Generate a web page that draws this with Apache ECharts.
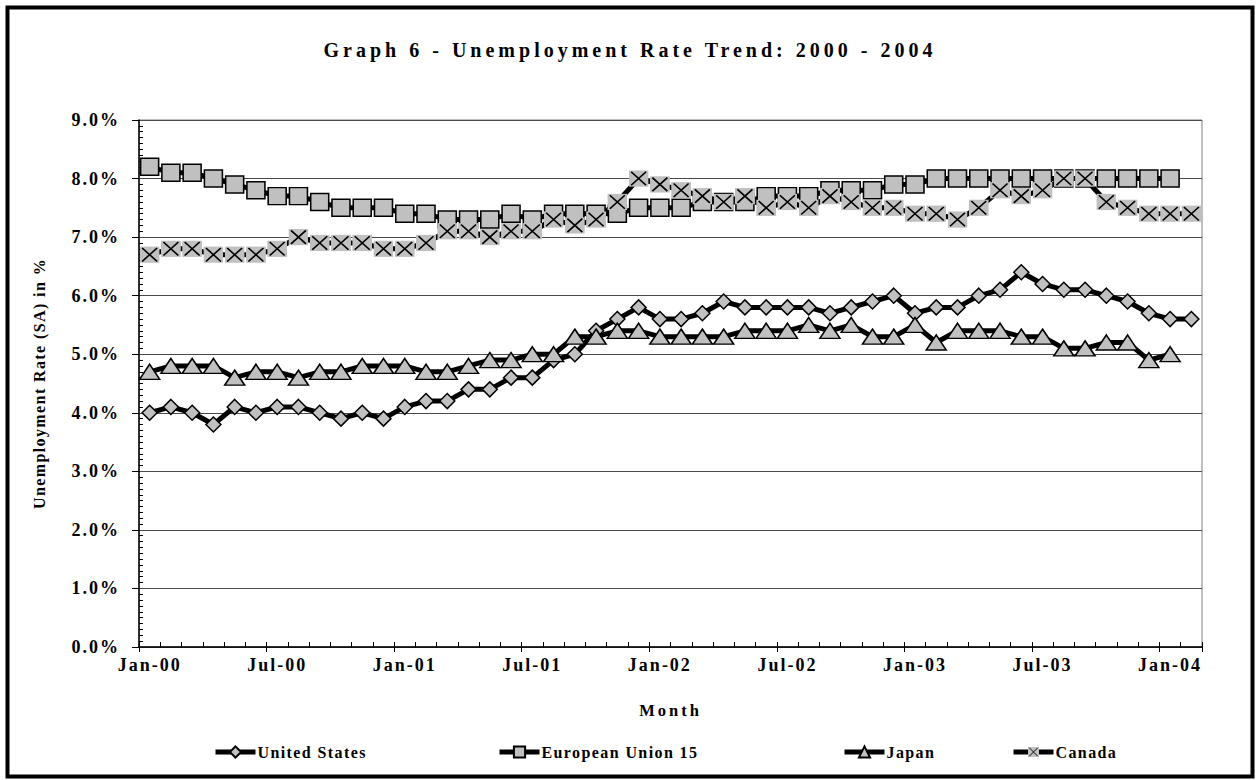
<!DOCTYPE html>
<html>
<head>
<meta charset="utf-8">
<script src="https://cdn.jsdelivr.net/npm/echarts@6/dist/echarts.min.js"></script>
<style>
  html, body { margin: 0; padding: 0; background: #fff; }
  #chart { width: 1259px; height: 780px; }
  /* Excel-style wide letter spacing on the bold serif labels */
  #chart text { letter-spacing: 2px; }
  #chart text[style*="20px"] { letter-spacing: 4px; }
  #chart text[style*="18px"] { letter-spacing: 2px; }
  #chart text[style*="16px"] { letter-spacing: 1.4px; }
  #chart text[style*="16.5px"] { letter-spacing: 3px; }
</style>
</head>
<body>
<div id="chart"></div>
<script>
// Month categories, Jan-00 .. Feb-04
const monthAbbr = ['Jan', 'Feb', 'Mar', 'Apr', 'May', 'Jun', 'Jul', 'Aug', 'Sep', 'Oct', 'Nov', 'Dec'];
const yearSuffix = ['00', '01', '02', '03', '04'];
const months = [];
yearSuffix.forEach(y => monthAbbr.forEach(m => months.push(m + '-' + y)));
months.length = 50;

// Seasonally adjusted unemployment rate, %
const unitedStates = [
  4.0, 4.1, 4.0, 3.8, 4.1, 4.0, 4.1, 4.1, 4.0, 3.9, 4.0, 3.9,
  4.1, 4.2, 4.2, 4.4, 4.4, 4.6, 4.6, 4.9, 5.0, 5.4, 5.6, 5.8,
  5.6, 5.6, 5.7, 5.9, 5.8, 5.8, 5.8, 5.8, 5.7, 5.8, 5.9, 6.0,
  5.7, 5.8, 5.8, 6.0, 6.1, 6.4, 6.2, 6.1, 6.1, 6.0, 5.9, 5.7,
  5.6, 5.6
];
const europeanUnion15 = [
  8.2, 8.1, 8.1, 8.0, 7.9, 7.8, 7.7, 7.7, 7.6, 7.5, 7.5, 7.5,
  7.4, 7.4, 7.3, 7.3, 7.3, 7.4, 7.3, 7.4, 7.4, 7.4, 7.4, 7.5,
  7.5, 7.5, 7.6, 7.6, 7.6, 7.7, 7.7, 7.7, 7.8, 7.8, 7.8, 7.9,
  7.9, 8.0, 8.0, 8.0, 8.0, 8.0, 8.0, 8.0, 8.0, 8.0, 8.0, 8.0,
  8.0, null
];
const japan = [
  4.7, 4.8, 4.8, 4.8, 4.6, 4.7, 4.7, 4.6, 4.7, 4.7, 4.8, 4.8,
  4.8, 4.7, 4.7, 4.8, 4.9, 4.9, 5.0, 5.0, 5.3, 5.3, 5.4, 5.4,
  5.3, 5.3, 5.3, 5.3, 5.4, 5.4, 5.4, 5.5, 5.4, 5.5, 5.3, 5.3,
  5.5, 5.2, 5.4, 5.4, 5.4, 5.3, 5.3, 5.1, 5.1, 5.2, 5.2, 4.9,
  5.0, null
];
const canada = [
  6.7, 6.8, 6.8, 6.7, 6.7, 6.7, 6.8, 7.0, 6.9, 6.9, 6.9, 6.8,
  6.8, 6.9, 7.1, 7.1, 7.0, 7.1, 7.1, 7.3, 7.2, 7.3, 7.6, 8.0,
  7.9, 7.8, 7.7, 7.6, 7.7, 7.5, 7.6, 7.5, 7.7, 7.6, 7.5, 7.5,
  7.4, 7.4, 7.3, 7.5, 7.8, 7.7, 7.8, 8.0, 8.0, 7.6, 7.5, 7.4,
  7.4, 7.4
];

const seriesNames = ['United States', 'European Union 15', 'Japan', 'Canada'];
const titleText = 'Graph 6 - Unemployment Rate Trend: 2000 - 2004';

const serif = "'Liberation Serif', 'Times New Roman', serif";
const markerFill = '#c0c0c0';

// Grey box with a black cross, used as the Canada marker
const crossSvg =
  '<svg xmlns="http://www.w3.org/2000/svg" width="20" height="18" viewBox="0 0 20 18">' +
  '<rect x="0" y="0" width="20" height="18" fill="' + markerFill + '"/>' +
  '<path d="M2.5 1.5 L17.5 16.5 M17.5 1.5 L2.5 16.5" stroke="#000" stroke-width="1.7" fill="none"/>' +
  '</svg>';
const crossSymbol = 'image://data:image/svg+xml;charset=utf-8,' + encodeURIComponent(crossSvg);

const markerStyle = { color: markerFill, borderColor: '#000', borderWidth: 1.5 };
const lineStyle = { color: '#000', width: 5 };

function lineSeries(name, data, symbol, size) {
  return {
    name: name,
    type: 'line',
    data: data,
    symbol: symbol,
    symbolSize: size,
    showAllSymbol: true,
    connectNulls: false,
    lineStyle: lineStyle,
    itemStyle: markerStyle,
    emphasis: { disabled: true },
    animation: false
  };
}

const legendLefts = [213, 497, 842, 1011];

const chart = echarts.init(document.getElementById('chart'), null, { renderer: 'svg' });
chart.setOption({
  backgroundColor: '#fff',
  animation: false,
  graphic: [
    {
      type: 'rect',
      shape: { x: 7.5, y: 7.5, width: 1245, height: 769 },
      style: { fill: 'none', stroke: '#000', lineWidth: 4 },
      silent: true
    },
    {
      type: 'text',
      x: 630, y: 50,
      style: {
        text: titleText,
        fontFamily: serif, fontWeight: 'bold', fontSize: 20,
        fill: '#000', align: 'center', verticalAlign: 'middle'
      },
      silent: true
    }
  ],
  grid: {
    left: 139, right: 57, top: 120, bottom: 133,
    show: true, borderColor: '#808080', borderWidth: 1, backgroundColor: 'transparent'
  },
  legend: seriesNames.map((n, i) => ({
    data: [n],
    left: legendLefts[i],
    top: 744,
    padding: 0,
    itemWidth: 40,
    itemHeight: 14,
    itemGap: 0,
    selectedMode: false,
    lineStyle: { width: 5, color: '#000' },
    textStyle: { fontFamily: serif, fontWeight: 'bold', fontSize: 16, color: '#000', padding: [0, 0, 0, -3] }
  })),
  xAxis: [
    {
      type: 'category',
      data: months,
      boundaryGap: true,
      name: 'Month',
      nameLocation: 'middle',
      nameGap: 55,
      nameTextStyle: { fontFamily: serif, fontWeight: 'bold', fontSize: 16.5, color: '#000' },
      axisLine: { show: true, lineStyle: { color: '#000', width: 1.5 } },
      axisTick: { show: true, interval: 5, length: 5, inside: false, lineStyle: { color: '#000', width: 1 } },
      axisLabel: {
        interval: 5, margin: 9,
        fontFamily: serif, fontWeight: 'bold', fontSize: 18, color: '#000'
      },
      splitLine: { show: false }
    },
    {
      type: 'category',
      data: months,
      position: 'bottom',
      boundaryGap: true,
      axisLine: { show: false },
      axisTick: { show: true, interval: 0, length: 5, inside: true, lineStyle: { color: '#000', width: 1 } },
      axisLabel: { show: false },
      splitLine: { show: false }
    }
  ],
  yAxis: {
    type: 'value',
    min: 0, max: 9, interval: 1,
    name: 'Unemployment Rate (SA) in %',
    nameLocation: 'middle',
    nameRotate: 90,
    nameGap: 92,
    nameTextStyle: { fontFamily: serif, fontWeight: 'bold', fontSize: 16, color: '#000' },
    axisLine: { show: true, lineStyle: { color: '#000', width: 1.5 } },
    axisTick: { show: true, length: 7, lineStyle: { color: '#000', width: 1 } },
    minorTick: { show: true, splitNumber: 10, length: -4, lineStyle: { color: '#000', width: 1 } },
    axisLabel: {
      margin: 19,
      formatter: v => v.toFixed(1) + '%',
      fontFamily: serif, fontWeight: 'bold', fontSize: 18, color: '#000'
    },
    splitLine: { show: true, lineStyle: { color: '#4a4a4a', width: 1 } }
  },
  series: [
    lineSeries(seriesNames[0], unitedStates, 'diamond', [15, 15]),
    lineSeries(seriesNames[1], europeanUnion15, 'rect', [18, 17]),
    lineSeries(seriesNames[2], japan, 'triangle', [20, 15]),
    lineSeries(seriesNames[3], canada, crossSymbol, [20, 18])
  ]
});
</script>
</body>
</html>
